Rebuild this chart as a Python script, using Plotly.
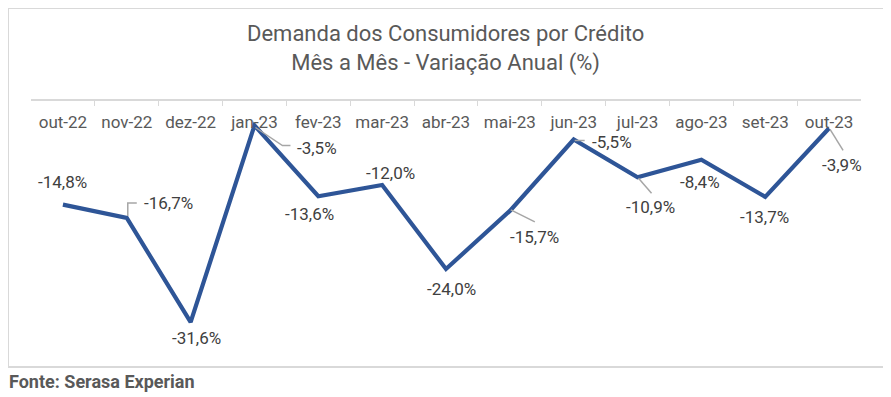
import plotly.graph_objects as go

months = ["out-22", "nov-22", "dez-22", "jan-23", "fev-23", "mar-23", "abr-23",
          "mai-23", "jun-23", "jul-23", "ago-23", "set-23", "out-23"]
values = [-14.8, -16.7, -31.6, -3.5, -13.6, -12.0, -24.0, -15.7, -5.5, -10.9, -8.4, -13.7, -3.9]

# label offsets from the point (px, screen coords: +x right, +y down)
offsets = [(0, -23), (42, -15), (6, 16), (63, 22), (-9, 18), (8, -12), (5, 20),
           (25, 26), (38, 2), (13, 30), (-1, 22), (-1, 20), (13, 37)]
# leader line vertices relative to the point (px, screen coords), None = no leader
leaders = [None,
           [(1, -2), (1, -15), (10, -15)],
           None,
           [(1, 2), (28, 20), (36, 20)],
           None, None, None,
           [(1, -1), (25, 11)],
           [(1, 1), (11, 1)],
           [(1, 1), (14, 16)],
           None, None,
           [(1, 1), (14, 22)]]

OFF = 8  # page body margin
W, H = 891 - OFF, 397 - OFF
# desired page coordinates of plot area
px0, px1, py0, py1 = 31, 861, 101, 353
L, R, T, B = px0 - OFF, W - (px1 - OFF), py0 - OFF, H - (py1 - OFF)
pw, ph = W - L - R, H - T - B


def paper_x(page_x):
    return (page_x - px0) / pw


def paper_y(page_y):
    return (py1 - page_y) / ph


LABEL_FONT = dict(family="Roboto", size=17, color="#404040")

fig = go.Figure()
fig.add_trace(go.Scatter(
    x=months, y=values, mode="lines",
    line=dict(color="#2E5597", width=4.2), hoverinfo="skip", showlegend=False))

annotations = []
shapes = [dict(type="rect", xref="paper", yref="paper",
               x0=paper_x(8), x1=paper_x(884),
               y0=paper_y(367), y1=paper_y(8),
               line=dict(color="#D9D9D9", width=2), fillcolor="rgba(0,0,0,0)", layer="below")]

for i, (m, v, (dx, dy), ld) in enumerate(zip(months, values, offsets, leaders)):
    txt = f"{v:.1f}%".replace(".", ",")
    annotations.append(dict(x=m, y=v, xref="x", yref="y", text=txt,
                            showarrow=False, xshift=dx, yshift=-dy,
                            font=LABEL_FONT))
    if ld:
        path = "M " + " L ".join(f"{px},{-py}" for px, py in ld)
        shapes.append(dict(type="path", xref="x", yref="y",
                           xsizemode="pixel", ysizemode="pixel",
                           xanchor=i, yanchor=v, path=path,
                           line=dict(color="#A6A6A6", width=1.5), layer="above"))

annotations.append(dict(x=paper_x(445.5), y=paper_y(48.5), xref="paper", yref="paper",
                        text="Demanda dos Consumidores por Crédito<br>Mês a Mês - Variação Anual (%)",
                        showarrow=False, xanchor="center", yanchor="middle",
                        font=dict(family="Roboto", size=22, color="#595959")))
annotations.append(dict(x=paper_x(7), y=paper_y(381), xref="paper", yref="paper",
                        text="<b>Fonte: Serasa Experian</b>",
                        showarrow=False, xanchor="left", yanchor="middle",
                        font=dict(family="Roboto", size=18, color="#595959")))

fig.update_layout(
    width=W, height=H,
    margin=dict(l=L, r=R, t=T, b=B, autoexpand=False),
    paper_bgcolor="white", plot_bgcolor="white",
    annotations=annotations,
    shapes=shapes,
    xaxis=dict(type="category", side="top", showline=True, linecolor="#D9D9D9", linewidth=1.5,
               ticks="inside", ticklen=5, tickcolor="#D9D9D9", tickson="boundaries",
               ticklabelposition="inside", ticklabelstandoff=11,
               tickfont=dict(family="Roboto", size=17, color="#595959"),
               showgrid=False, zeroline=False, range=[-0.5, 12.5], fixedrange=True),
    yaxis=dict(range=[-36, 0], visible=False, showgrid=False, zeroline=False, fixedrange=True),
)

fig.write_html("out.html")
